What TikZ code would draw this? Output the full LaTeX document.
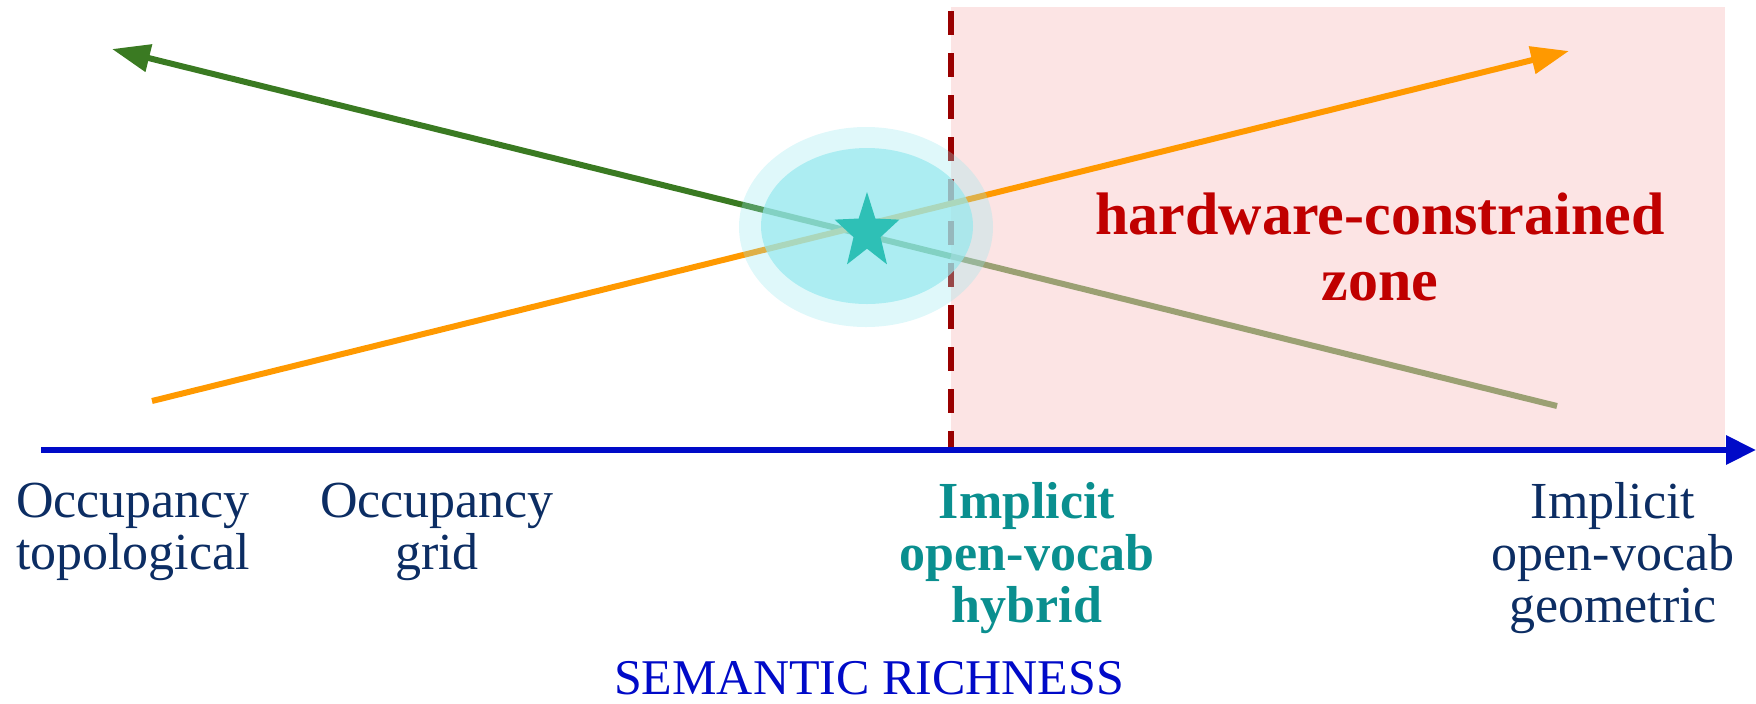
\documentclass[tikz,border=0pt]{standalone}
\usepackage{fontspec}
\setmainfont{Liberation Serif}
\usetikzlibrary{positioning, shapes.geometric, arrows.meta}

\definecolor{labelnavy}{RGB}{12,45,99}
\definecolor{hybridteal}{RGB}{10,143,143}
\definecolor{zonered}{RGB}{192,0,0}
\definecolor{zonepink}{RGB}{252,228,228}
\definecolor{dashred}{RGB}{153,0,0}
\definecolor{axisblue}{RGB}{0,10,200}
\definecolor{lineorange}{RGB}{255,153,0}
\definecolor{linegreen}{RGB}{58,122,34}
\definecolor{lineolive}{RGB}{155,160,115}
\definecolor{glowcyan}{RGB}{150,232,238}
\definecolor{starteal}{RGB}{46,192,182}

\begin{document}
\begin{tikzpicture}[x=0.5pt, y=-0.5pt,
	lbl/.style={align=center, inner sep=0pt, anchor=base, text=labelnavy,
		font=\fontsize{26}{26}\selectfont},
	trend/.style={line width=3pt},
	tip/.style={-{Triangle[length=19pt, width=13.5pt]}}]
	\useasboundingbox (0,0) rectangle (1756,703);

	% hardware zone
	\fill[zonepink] (951,7) rectangle (1725,450);
	\draw[dashred, line width=3pt, dash pattern=on 12pt off 9pt] (951,11) -- (951,450);

	\coordinate (gstart) at (1557,406);
	\coordinate (gtip) at (112,49);
	\coordinate (ostart) at (152,401);
	\coordinate (otip) at (1569,51);
	\path (gstart) -- (gtip) coordinate[pos=0.4194] (gmid);

	\draw[trend, lineolive] (gstart) -- (gmid);
	\draw[trend, tip, linegreen] (gmid) -- (gtip);
	\draw[trend, tip, lineorange] (ostart) -- (otip);

	\coordinate (ax0) at (41,450);
	\coordinate (ax1) at (1756,450);
	\draw[axisblue, line width=3.2pt, -{Triangle[length=15pt, width=14pt]}] (ax0) -- (ax1);

	% sweet spot
	\fill[glowcyan, opacity=0.3] (866,227) ellipse [x radius=127, y radius=100];
	\fill[glowcyan, opacity=0.7] (867,226) ellipse [x radius=106, y radius=78];
	\node[star, star points=5, star point ratio=2.4, minimum size=40pt, inner sep=0pt,
		fill=starteal, xscale=0.85] (best) at (867,232) {};

	\node[lbl] (topo) at (133,569) {Occupancy\\topological};
	\node[lbl] (grid) at (437,569) {Occupancy\\grid};
	\node[lbl, text=hybridteal, font=\fontsize{26}{26}\selectfont\bfseries] (hybrid) at (1027,622) {Implicit\\open-vocab\\hybrid};
	\node[lbl] (geom) at (1613,622) {Implicit\\open-vocab\\geometric};
	\node[lbl, text=axisblue, font=\fontsize{25}{25}\selectfont] (axislabel) at (869,694) {SEMANTIC RICHNESS};
	\node[lbl, text=zonered, font=\fontsize{30}{33}\selectfont\bfseries] (zone) at (1380,300) {hardware-constrained\\zone};
\end{tikzpicture}
\end{document}
